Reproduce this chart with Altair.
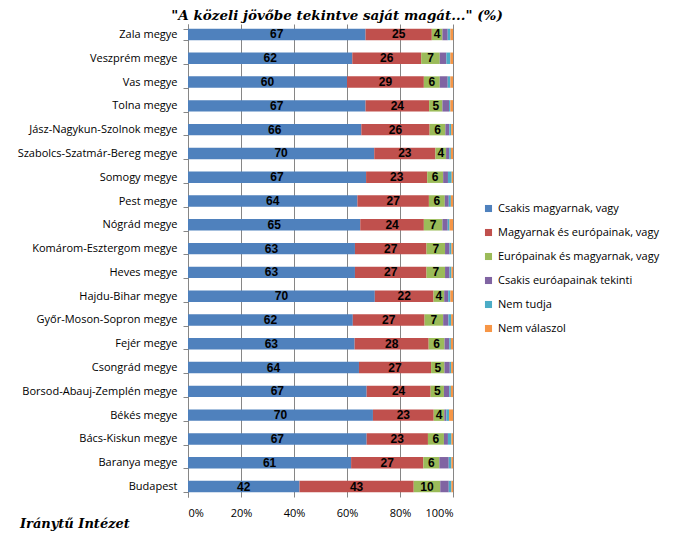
import altair as alt
import pandas as pd

regions = ["Zala megye", "Veszprém megye", "Vas megye", "Tolna megye",
           "Jász-Nagykun-Szolnok megye", "Szabolcs-Szatmár-Bereg megye",
           "Somogy megye", "Pest megye", "Nógrád megye", "Komárom-Esztergom megye",
           "Heves megye", "Hajdu-Bihar megye", "Győr-Moson-Sopron megye",
           "Fejér megye", "Csongrád megye", "Borsod-Abauj-Zemplén megye",
           "Békés megye", "Bács-Kiskun megye", "Baranya megye", "Budapest"]

series = ["Csakis magyarnak, vagy", "Magyarnak és európainak, vagy",
          "Európainak és magyarnak, vagy", "Csakis euróapainak tekinti",
          "Nem tudja", "Nem válaszol"]
colors = ["#4F81BD", "#C0504D", "#9BBB59", "#8064A2", "#4BACC6", "#F79646"]

s_magyar = [67, 62, 60, 67, 66, 70, 67, 64, 65, 63, 63, 70, 62, 63, 64, 67, 70, 67, 61, 42]
s_magyar_eu = [25, 26, 29, 24, 26, 23, 23, 27, 24, 27, 27, 22, 27, 28, 27, 24, 23, 23, 27, 43]
s_eu_magyar = [4, 7, 6, 5, 6, 4, 6, 6, 7, 7, 7, 4, 7, 6, 5, 5, 4, 6, 6, 10]
s_eu = [2, 2.5, 3, 2.5, 1.5, 1.2, 1.8, 1.5, 2, 1.7, 1.7, 1.5, 2, 1.8, 2, 2, 0.8, 1.5, 3.5, 3.2]
s_nemtud = [1, 1.5, 1, 0.5, 0.7, 0.6, 1.4, 0.8, 0.7, 0.7, 0.7, 0.8, 1, 0.6, 0.5, 0.6, 1, 1.3, 1, 1]
s_nemval = [1, 1, 1, 1, 0.7, 0.8, 0.5, 0.8, 1.3, 0.6, 0.6, 1, 0.7, 0.8, 0.7, 0.8, 1.5, 0.6, 0.6, 0.6]

all_series = [s_magyar, s_magyar_eu, s_eu_magyar, s_eu, s_nemtud, s_nemval]

title_text = '"A közeli jövőbe tekintve saját magát..." (%)'
source_text = "Iránytű Intézet"

rows = []
for si, (name, vals) in enumerate(zip(series, all_series)):
    for r, v in zip(regions, vals):
        rows.append({"region": r, "series": name, "order": si, "value": v,
                     "label": str(int(v)) if si < 3 else ""})
df = pd.DataFrame(rows)

font = "Open Sans"

base = alt.Chart(df).transform_stack(
    stack="value", groupby=["region"], sort=[alt.SortField("order")],
    as_=["v0", "v1"], offset="normalize"
).transform_calculate(mid="(datum.v0 + datum.v1) / 2")

ysc = alt.Scale(domain=regions, paddingInner=0.52, paddingOuter=0.2)

bars = base.mark_bar().encode(
    y=alt.Y("region:N", sort=regions, scale=ysc, title=None,
            axis=alt.Axis(tickBand="extent", tickSize=5, tickColor="#868686",
                          domainColor="#868686", labelFont=font, labelFontSize=11,
                          labelColor="#000", labelPadding=6, grid=False)),
    x=alt.X("v0:Q", scale=alt.Scale(domain=[0, 1], nice=False), title=None,
            axis=alt.Axis(format="%", values=[0, 0.2, 0.4, 0.6, 0.8, 1.0],
                          grid=True, gridColor="#868686", domain=False, ticks=False,
                          labelFont=font, labelFontSize=11, labelColor="#000",
                          labelPadding=10)),
    x2="v1:Q",
    color=alt.Color("series:N", sort=series,
                    scale=alt.Scale(domain=series, range=colors),
                    legend=alt.Legend(title=None, orient="none", legendX=295, legendY=179,
                                      symbolType="square", symbolSize=50,
                                      symbolStrokeWidth=0, labelFont=font,
                                      labelFontSize=11, labelColor="#000",
                                      labelLimit=400, rowPadding=12, labelOffset=4)),
    order=alt.Order("order:Q"),
)

texts = base.mark_text(font="Liberation Sans", fontWeight="bold", fontSize=12,
                       color="#000", baseline="middle").encode(
    y=alt.Y("region:N", sort=regions, scale=ysc),
    x=alt.X("mid:Q"),
    text="label:N",
)

source = alt.Chart(pd.DataFrame({"t": [source_text]})).mark_text(
    font="DejaVu Serif", fontStyle="italic", fontWeight="bold", fontSize=13,
    align="left", baseline="middle", color="#000"
).encode(x=alt.value(-168), y=alt.value(500), text="t:N")

title = alt.Chart(pd.DataFrame({"t": [title_text]})).mark_text(
    font="DejaVu Serif", fontStyle="italic", fontWeight="bold", fontSize=13.5,
    align="center", baseline="top", color="#000"
).encode(x=alt.value(149), y=alt.value(-15), text="t:N")

chart = alt.layer(bars, texts, source, title).properties(
    width=265, height=473,
    autosize=alt.AutoSizeParams(type="none"),
    padding={"left": 180, "top": 16, "right": 213, "bottom": 36},
).configure_view(stroke=None)

chart.save("out.html", embed_options={"renderer": "svg", "actions": False})
